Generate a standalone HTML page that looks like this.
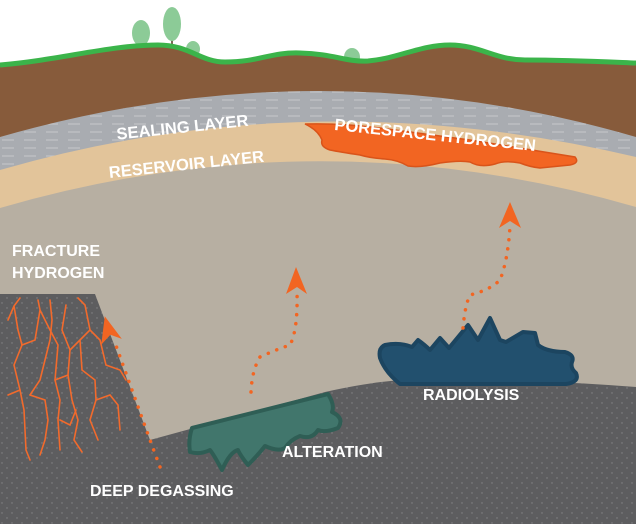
<!DOCTYPE html>
<html><head><meta charset="utf-8"><style>
html,body{margin:0;padding:0;background:#fff;}
svg{display:block;}
text{font-family:"Liberation Sans",sans-serif;font-weight:bold;fill:#fff;}
</style></head><body>
<svg width="636" height="524" viewBox="0 0 636 524" xmlns="http://www.w3.org/2000/svg">
<defs>
<pattern id="dash" width="22" height="8" patternUnits="userSpaceOnUse">
<rect width="22" height="8" fill="#a9acb1"/>
<line x1="2" y1="4" x2="14" y2="4" stroke="#c7c9cc" stroke-width="1"/>
</pattern>
<pattern id="dots" width="10" height="10" patternUnits="userSpaceOnUse">
<rect width="10" height="10" fill="#5d5d5f"/>
<circle cx="2" cy="3" r="0.7" fill="#858587"/>
<circle cx="7" cy="8" r="0.7" fill="#858587"/>
</pattern>
</defs>
<rect width="636" height="524" fill="#fff"/>
<!-- trees -->
<g fill="#8ccb97">
<rect x="140" y="38" width="2" height="10" fill="#7a6a55"/>
<ellipse cx="141" cy="33" rx="9" ry="13"/>
<rect x="171" y="30" width="2" height="15" fill="#7a6a55"/>
<ellipse cx="172" cy="24" rx="9" ry="17"/>
<ellipse cx="193" cy="49" rx="7" ry="8"/>
<ellipse cx="352" cy="57" rx="8" ry="9"/>
</g>
<!-- brown ground -->
<path d="M0 65 C60 60 110 45 158 45 C190 45 200 62 225 62 C260 62 270 52 300 53 C335 54 345 62 368 61 C400 58 420 45 450 45 C480 45 495 60 525 60 C570 60 610 62 636 63 L636 524 L0 524 Z" fill="#875b3b"/>
<path d="M0 65 C60 60 110 45 158 45 C190 45 200 62 225 62 C260 62 270 52 300 53 C335 54 345 62 368 61 C400 58 420 45 450 45 C480 45 495 60 525 60 C570 60 610 62 636 63" fill="none" stroke="#3bb44a" stroke-width="5"/>
<!-- sealing layer -->
<path d="M0 137 Q320 45 636 137 L636 524 L0 524 Z" fill="url(#dash)"/>
<!-- reservoir -->
<path d="M0 170 Q310 80 636 157 L636 524 L0 524 Z" fill="#e2c49a"/>
<!-- beige -->
<path d="M0 208 Q320 115 636 207 L636 524 L0 524 Z" fill="#b7afa2"/>
<!-- porespace -->
<path d="M305 124 Q340 123 380 128 L470 140 L575 157 Q580 163 570 165 L540 168 Q530 167 520 163 Q505 160 495 164 Q480 168 470 162 Q460 160 440 163 Q420 168 408 166 Q398 160 385 159 Q370 158 360 155 Q340 152 330 150 Q320 147 322 140 Q318 130 305 124 Z" fill="#f26522" stroke="#d9541a" stroke-width="1.5"/>
<!-- rock -->
<path d="M0 294 L95 294 L150 440 L325 392 Q380 380 410 380 Q520 378 636 387 L636 524 L0 524 Z" fill="url(#dots)"/>
<!-- alteration -->
<path d="M192 428 L328 394 Q335 405 332 412 Q345 418 338 428 Q325 433 318 430 Q312 440 300 436 Q290 440 285 448 Q278 452 265 446 Q258 455 248 465 Q240 455 238 450 Q230 452 222 470 Q214 455 210 450 Q200 455 190 452 Q188 440 192 428 Z" fill="#41766c" stroke="#2f5e55" stroke-width="4" stroke-linejoin="round"/>
<!-- radiolysis -->
<path d="M380 358 Q378 348 385 345 Q400 342 412 347 L418 340 Q425 345 430 350 L440 338 L449 348 L468 325 L478 340 L490 318 L500 340 L506 342 L523 332 L535 333 L538 345 Q547 352 565 352 Q575 355 572 362 Q570 368 576 373 Q580 382 566 384 L400 384 Q385 372 380 358 Z" fill="#22506e" stroke="#1c4560" stroke-width="4" stroke-linejoin="round"/>
<!-- cracks -->
<g stroke="#f26a2c" stroke-width="1.6" fill="none" stroke-linecap="round">
<path d="M8 320 L14 306 L20 298 M14 306 L18 330 L22 345 L14 365 L20 390 L24 410 L26 450 L30 460"/>
<path d="M22 345 L35 340 L40 310 L38 300 M40 310 L50 330 L58 345 L55 380 L60 400 L58 420 L60 450"/>
<path d="M50 300 L52 320 L50 340 L45 360 L40 380 L30 395 M55 380 L68 375 L70 350 L62 330 L66 305"/>
<path d="M70 350 L80 340 L90 330 L85 305 L78 298 M80 340 L82 370 L95 380 L96 400 L90 420 L98 440"/>
<path d="M68 375 L72 400 L78 420 L74 440 L82 452 M96 400 L110 395 L118 405 L120 430"/>
<path d="M90 330 L100 340 L106 365 L120 370 L126 380 M60 420 L70 425 L76 410"/>
<path d="M30 395 L45 400 L48 420 L45 440 L40 455 M20 390 L8 395"/>
</g>
<!-- arrows -->
<g stroke="#f26522" stroke-width="3.5" stroke-dasharray="0.1 9" stroke-linecap="round" fill="none">
<path d="M160 467 L150 440 L114 340"/>
<path d="M251 392 Q252 370 260 357 Q275 350 290 345 Q298 330 297 292"/>
<path d="M463 328 Q465 305 470 295 Q490 290 500 280 Q508 260 510 226"/>
</g>
<g fill="#f26522">
<path d="M106 316 L121 340 L110 335 L100 344 Z" transform="rotate(-5 108 330)"/>
<path d="M296 267 L307 294 L297 287 L286 294 Z"/>
<path d="M510 202 L521 228 L510 221 L499 228 Z"/>
</g>
<!-- labels -->
<text x="116" y="133" font-size="16.5" transform="rotate(-6 180 125)">SEALING LAYER</text>
<text x="108" y="170" font-size="16.5" transform="rotate(-6 185 160)">RESERVOIR LAYER</text>
<text x="333" y="140" font-size="16.5" transform="rotate(6 430 145)">PORESPACE HYDROGEN</text>
<text x="12" y="256" font-size="16">FRACTURE</text>
<text x="12" y="278" font-size="16">HYDROGEN</text>
<text x="90" y="496" font-size="16">DEEP DEGASSING</text>
<text x="282" y="457" font-size="16">ALTERATION</text>
<text x="423" y="400" font-size="16">RADIOLYSIS</text>
</svg>
</body></html>
